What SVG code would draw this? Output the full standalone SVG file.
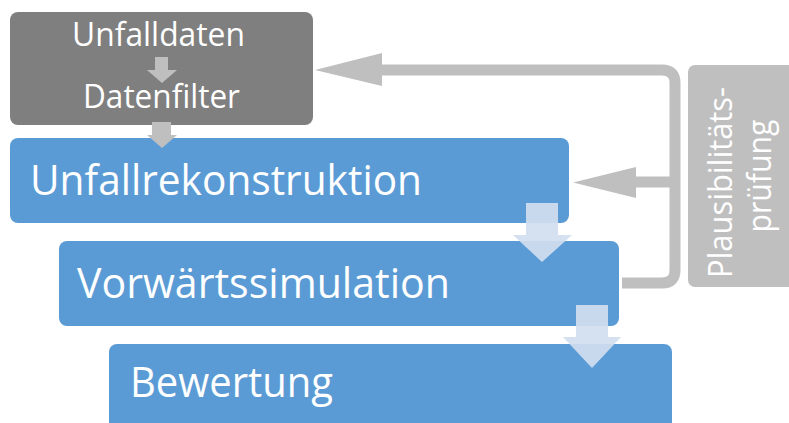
<svg xmlns="http://www.w3.org/2000/svg" width="789" height="423" viewBox="0 0 789 423">
  <defs>
    <style>
      .txt { font-family: "Open Sans", "Noto Sans", "Liberation Sans", sans-serif; fill: #ffffff; }
      .big { font-size: 42px; }
      .small { font-size: 32.5px; }
      .blue { fill: #5b9bd5; }
      .dark { fill: #7f7f7f; }
      .grey { fill: #bfbfbf; }
      .lightarrow { fill: #d1deef; fill-opacity: 0.92; }
      .loop { fill: none; stroke: #bfbfbf; stroke-width: 11; }
    </style>
  </defs>

  <!-- Input stage: data and filter -->
  <g id="node-unfalldaten">
    <rect class="dark" x="10" y="12" width="303" height="113" rx="8"/>
    <text class="txt small" x="72" y="46" textLength="173" lengthAdjust="spacingAndGlyphs">Unfalldaten</text>
    <text class="txt small" x="83" y="108" textLength="157" lengthAdjust="spacingAndGlyphs">Datenfilter</text>
  </g>

  <g id="node-unfallrekonstruktion">
    <rect class="blue" x="10" y="138" width="559" height="85" rx="8"/>
    <text class="txt big" x="30" y="195" textLength="392" lengthAdjust="spacingAndGlyphs">Unfallrekonstruktion</text>
  </g>

  <g id="node-vorwaertssimulation">
    <rect class="blue" x="59" y="241" width="560" height="85" rx="8"/>
    <text class="txt big" x="77" y="298" textLength="373" lengthAdjust="spacingAndGlyphs">Vorwärtssimulation</text>
  </g>

  <g id="node-bewertung">
    <rect class="blue" x="109" y="344" width="563" height="100" rx="8"/>
    <text class="txt big" x="130" y="397" textLength="203" lengthAdjust="spacingAndGlyphs">Bewertung</text>
  </g>

  <g id="node-plausibilitaet">
    <rect class="grey" x="688" y="65" width="112" height="222" rx="7"/>
    <text class="txt small" transform="translate(732,182.5) rotate(-90)" text-anchor="middle" textLength="191" lengthAdjust="spacingAndGlyphs">Plausibilitäts-</text>
    <text class="txt small" transform="translate(771,176) rotate(-90)" text-anchor="middle" textLength="113" lengthAdjust="spacingAndGlyphs">prüfung</text>
  </g>

  <g id="connectors">
    <!-- feedback loop from the simulation back to earlier stages -->
    <path class="loop" d="M622,283 H662 Q675,283 675,270 V83 Q675,70 662,70 H380"/>
    <line x1="675" y1="182" x2="633" y2="182" stroke="#bfbfbf" stroke-width="11"/>
    <polygon class="grey" points="315,70 382,53 382,86"/>
    <polygon class="grey" points="573,182.5 636,167 636,198"/>

    <!-- small downward arrows inside / below the data box -->
    <polygon class="grey" points="155,57 168,57 168,70 177,70 162,83 147,70 155,70"/>
    <polygon class="grey" points="152,122 171,122 171,135 177,135 162,148 147,135 152,135"/>

    <!-- light downward arrows between stages -->
    <polygon class="lightarrow" points="526,203 558,203 558,235 572,235 542,262 513,235 526,235"/>
    <polygon class="lightarrow" points="576,305 608,305 608,337 621,337 592,368 563,337 576,337"/>
  </g>
</svg>
